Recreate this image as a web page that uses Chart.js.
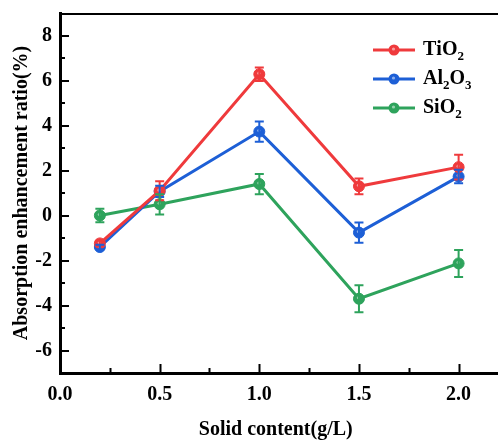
<!DOCTYPE html>
<html>
<head>
<meta charset="utf-8">
<script src="https://cdn.jsdelivr.net/npm/chart.js@4.4.1/dist/chart.umd.min.js"></script>
<style>
  html, body { margin: 0; padding: 0; background: #fff; overflow: hidden; }
  #wrap { width: 498px; height: 442px; }
</style>
</head>
<body>
<div id="wrap"><canvas id="chart" width="498" height="442"></canvas></div>
<script>
// data
const solidContent = [0.2, 0.5, 1.0, 1.5, 2.0];
const tio2 = [-1.24, 1.1, 6.28, 1.3, 2.15];
const tio2Err = [0.12, 0.42, 0.3, 0.35, 0.55];
const al2o3 = [-1.4, 1.07, 3.73, -0.76, 1.73];
const al2o3Err = [0.1, 0.25, 0.45, 0.45, 0.3];
const sio2 = [0.0, 0.5, 1.4, -3.7, -2.13];
const sio2Err = [0.3, 0.45, 0.45, 0.6, 0.6];

const seriesNames = ['TiO2', 'Al2O3', 'SiO2'];
const seriesColors = ['#ef3a3c', '#1d5fd6', '#2ea35c'];

const xTicks = [0, 0.5, 1.0, 1.5, 2.0];
const xMinorTicks = [0.25, 0.75, 1.25, 1.75];
const yTicks = [-6, -4, -2, 0, 2, 4, 6, 8];
const yMinorTicks = [-5, -3, -1, 1, 3, 5, 7];

const FONT = '"Liberation Serif", "Times New Roman", serif';

function makeSet(i, values, errs) {
  return {
    label: seriesNames[i],
    data: solidContent.map((x, k) => ({ x: x, y: values[k] })),
    errors: errs,
    borderColor: seriesColors[i],
    backgroundColor: seriesColors[i],
    borderWidth: 3,
    pointRadius: 5.5,
    pointHoverRadius: 5.5,
    pointBorderWidth: 1,
    tension: 0
  };
}

// subscript digits in chemical formulas
function drawFormula(ctx, text, x, y) {
  ctx.textBaseline = 'middle';
  ctx.textAlign = 'left';
  for (const ch of text) {
    const sub = /[0-9]/.test(ch);
    ctx.font = sub ? 'bold 13px ' + FONT : 'bold 20px ' + FONT;
    ctx.fillText(ch, x, sub ? y + 7 : y);
    x += ctx.measureText(ch).width;
  }
}

function marker(ctx, x, y, color) {
  ctx.fillStyle = color;
  ctx.beginPath();
  ctx.arc(x, y, 5.5, 0, Math.PI * 2);
  ctx.fill();
  ctx.fillStyle = 'rgba(255,255,255,0.5)';
  ctx.beginPath();
  ctx.arc(x - 0.5, y - 1, 1.6, 0, Math.PI * 2);
  ctx.fill();
}

const extras = {
  id: 'extras',
  afterDatasetsDraw(chart) {
    const { ctx, scales: { y } } = chart;
    ctx.save();
    // highlights on markers
    chart.data.datasets.forEach((ds, i) => {
      chart.getDatasetMeta(i).data.forEach(pt => {
        ctx.fillStyle = 'rgba(255,255,255,0.5)';
        ctx.beginPath();
        ctx.arc(pt.x - 0.5, pt.y - 1, 1.6, 0, Math.PI * 2);
        ctx.fill();
      });
    });
    // error bars
    chart.data.datasets.forEach((ds, i) => {
      ctx.strokeStyle = ds.borderColor;
      ctx.lineWidth = 2;
      chart.getDatasetMeta(i).data.forEach((pt, k) => {
        const v = ds.data[k].y, e = ds.errors[k];
        const top = y.getPixelForValue(v + e);
        const bot = y.getPixelForValue(v - e);
        ctx.beginPath();
        ctx.moveTo(pt.x, top); ctx.lineTo(pt.x, bot);
        ctx.moveTo(pt.x - 4.5, top); ctx.lineTo(pt.x + 4.5, top);
        ctx.moveTo(pt.x - 4.5, bot); ctx.lineTo(pt.x + 4.5, bot);
        ctx.stroke();
      });
    });
    ctx.restore();
  },
  afterDraw(chart) {
    const { ctx, chartArea: a, scales: { x, y } } = chart;
    ctx.save();
    ctx.strokeStyle = '#000';
    // top frame, and the bottom axis runs on to the cropped edge
    ctx.lineWidth = 2;
    ctx.beginPath();
    ctx.moveTo(a.left, a.top + 1); ctx.lineTo(chart.width, a.top + 1);
    ctx.stroke();
    ctx.lineWidth = 3;
    ctx.beginPath();
    ctx.moveTo(a.right - 2, a.bottom + 0.5); ctx.lineTo(chart.width, a.bottom + 0.5);
    ctx.stroke();
    // inward ticks
    ctx.lineWidth = 2;
    ctx.beginPath();
    x.ticks.forEach(t => {
      const px = Math.round(x.getPixelForValue(t.value)) + 0.5;
      ctx.moveTo(px, a.bottom); ctx.lineTo(px, a.bottom - 9);
    });
    xMinorTicks.forEach(v => {
      const px = Math.round(x.getPixelForValue(v)) + 0.5;
      ctx.moveTo(px, a.bottom); ctx.lineTo(px, a.bottom - 5);
    });
    y.ticks.forEach(t => {
      const py = Math.round(y.getPixelForValue(t.value));
      ctx.moveTo(a.left, py); ctx.lineTo(a.left + 9, py);
    });
    yMinorTicks.forEach(v => {
      const py = Math.round(y.getPixelForValue(v));
      ctx.moveTo(a.left, py); ctx.lineTo(a.left + 5, py);
    });
    ctx.stroke();
    // legend
    const lx = 373, ly = 50, gap = 29;
    chart.data.datasets.forEach((ds, i) => {
      const yy = ly + i * gap;
      ctx.strokeStyle = ds.borderColor;
      ctx.lineWidth = 3;
      ctx.beginPath();
      ctx.moveTo(lx, yy); ctx.lineTo(lx + 42, yy);
      ctx.stroke();
      marker(ctx, lx + 21, yy, ds.borderColor);
      ctx.fillStyle = '#000';
      drawFormula(ctx, ds.label, lx + 50, yy);
    });
    ctx.restore();
  }
};

new Chart(document.getElementById('chart'), {
  type: 'line',
  data: {
    datasets: [
      makeSet(0, tio2, tio2Err),
      makeSet(1, al2o3, al2o3Err),
      makeSet(2, sio2, sio2Err)
    ]
  },
  options: {
    responsive: false,
    animation: false,
    devicePixelRatio: 1,
    layout: { padding: { top: 13, right: 0, left: 0, bottom: 0 } },
    plugins: { legend: { display: false }, tooltip: { enabled: false } },
    scales: {
      x: {
        type: 'linear',
        min: 0,
        max: 2.165,
        afterBuildTicks: s => { s.ticks = xTicks.map(v => ({ value: v })); },
        afterFit: s => { s.height = 69; s.paddingLeft = 0; s.paddingRight = 0; },
        grid: { display: false, drawTicks: false },
        border: { display: true, color: '#000', width: 3 },
        ticks: {
          color: '#000',
          padding: 10,
          font: { family: FONT, size: 20, weight: 'bold' },
          callback: v => Number(v).toFixed(1)
        },
        title: {
          display: true,
          text: 'Solid content(g/L)',
          color: '#000',
          padding: { top: 0, bottom: 0 },
          font: { family: FONT, size: 20, weight: 'bold' }
        }
      },
      y: {
        min: -7,
        max: 9,
        afterBuildTicks: s => { s.ticks = yTicks.map(v => ({ value: v })); },
        afterFit: s => { s.width = 60; s.paddingTop = 0; s.paddingBottom = 0; },
        grid: { display: false, drawTicks: false },
        border: { display: true, color: '#000', width: 3 },
        ticks: {
          color: '#000',
          padding: 8,
          font: { family: FONT, size: 20, weight: 'bold' }
        },
        title: {
          display: true,
          text: 'Absorption enhancement ratio(%)',
          color: '#000',
          padding: { top: 10, bottom: 0 },
          font: { family: FONT, size: 20, weight: 'bold' }
        }
      }
    }
  },
  plugins: [extras]
});
</script>
</body>
</html>
